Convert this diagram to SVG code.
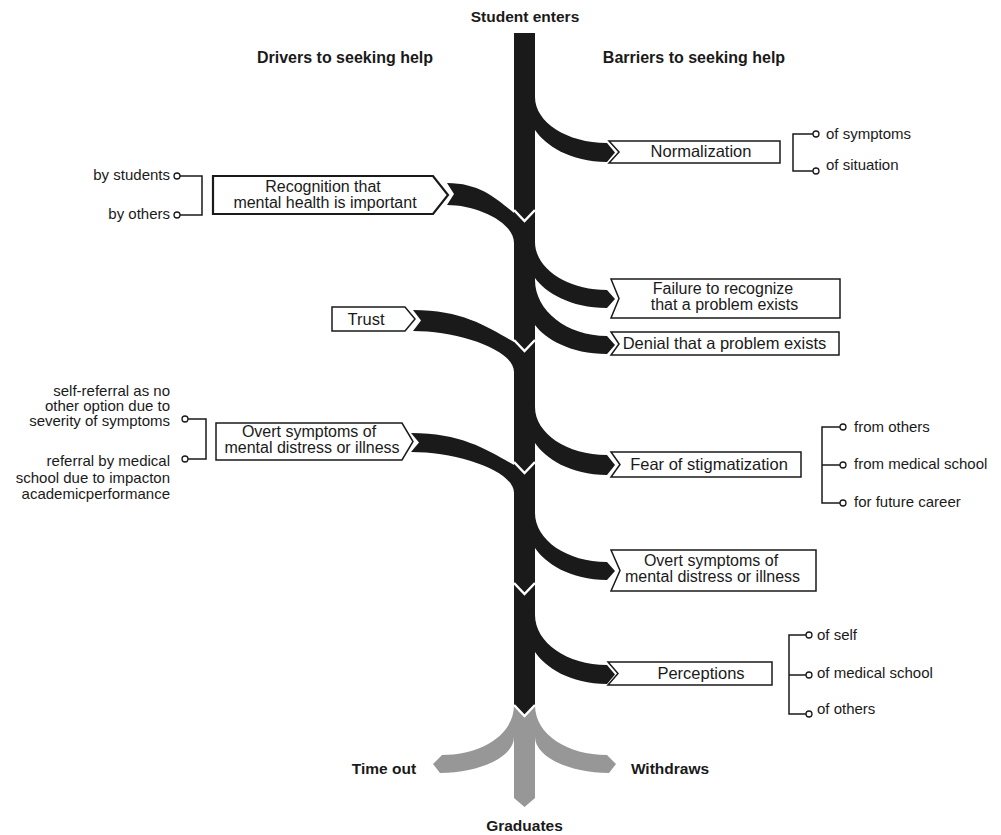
<svg xmlns="http://www.w3.org/2000/svg" width="1001" height="835" viewBox="0 0 1001 835">
<style>
.box{fill:#fff;stroke:#1a1a1a;stroke-width:1.5}
.boxb{fill:#fff;stroke:#1a1a1a;stroke-width:2.2}
.flow{fill:#1a1a1a}
.gray{fill:#979797}
.v{fill:none;stroke:#fff;stroke-width:2.5}
.br{fill:none;stroke:#1a1a1a;stroke-width:1.5}
.dot{fill:#fff;stroke:#1a1a1a;stroke-width:1.3}
text{font-family:"Liberation Sans",Arial,sans-serif;fill:#1a1a1a}
.t{font-size:16.5px;text-anchor:middle}
.t2{font-size:16px;text-anchor:middle}
.s{font-size:15px}
.e{text-anchor:end}
.h{font-size:16px;font-weight:bold;text-anchor:middle}
.hs{font-size:15.5px;font-weight:bold;text-anchor:middle}
</style>
<rect width="1001" height="835" fill="#fff"/>
<g id="outcomes">
<path class="gray" d="M514 705 L535 705 C535 735 568 755 607 755 L616 764 L609 773 C570 773 535 757 535 737 L535 798 L524.5 807 L514 798 L514 737 C514 757 479 773 440 773 L433 764 L442 755 C481 755 514 735 514 705 Z"/>
</g>
<g id="connectors">
<path class="flow" d="M447 183 C480.5 183 497.3 199.5 514 213 L526 213 L526 243 L514 243 C514 222.1 477.2 205 447 205 L454 194 Z"/>
<path class="flow" d="M413 310 C463.5 310 488.5 327.6 514 342 L526 342 L526 372 L514 372 C514 349.5 458 331 413 331 L421 320.5 Z"/>
<path class="flow" d="M411 433 C462.5 433 488.3 450.6 514 465 L526 465 L526 493 L514 493 C514 470.5 457.4 452 411 452 L419 442.5 Z"/>
<path class="flow" d="M514 33 L535 33 L535 705 L524.5 716 L514 705 Z"/>
<path class="flow" d="M524 97 L535 97 C535 122.3 567 143 607 143 L615 152.5 L607 162 C570 162 545 145 535 130 L524 130 Z"/>
<path class="flow" d="M524 242 L535 242 C535 268.4 567 290 607 290 L615 299 L607 308 C570 308 545 292.1 535 278 L524 278 Z"/>
<path class="flow" d="M524 280 L535 280 C535 310.8 567 336 607 336 L615 345 L607 354 C570 354 545 338.6 535 325 L524 325 Z"/>
<path class="flow" d="M524 407 L535 407 C535 433.4 567 455 607 455 L615 465 L607 475 C570 475 545 458 535 443 L524 443 Z"/>
<path class="flow" d="M524 513 L535 513 C535 540 567 562 607 562 L615 571 L607 580 C570 580 545 563 535 548 L524 548 Z"/>
<path class="flow" d="M524 615 L535 615 C535 642.5 567 665 607 665 L615 674.5 L607 684 C570 684 545 667 535 652 L524 652 Z"/>
<polyline class="v" points="514,210 524.5,221 535,210"/>
<polyline class="v" points="514,340 524.5,351 535,340"/>
<polyline class="v" points="514,462 524.5,473 535,462"/>
<polyline class="v" points="514,583 524.5,594 535,583"/>
<polyline class="v" points="514,705 524.5,716 535,705"/>
<path class="br" d="M180 176 L202 176 L202 215 L180 215"/>
<circle class="dot" cx="177" cy="176" r="3"/><circle class="dot" cx="177" cy="215" r="3"/>
<path class="br" d="M188 419 L206 419 L206 459 L188 459"/>
<circle class="dot" cx="185" cy="419" r="3"/><circle class="dot" cx="185" cy="459" r="3"/>
<path class="br" d="M813 134 L793 134 L793 171 L813 171"/>
<circle class="dot" cx="816" cy="134" r="3"/><circle class="dot" cx="816" cy="171" r="3"/>
<path class="br" d="M840 427 L822 427 L822 503 L840 503 M822 465 L840 465"/>
<circle class="dot" cx="843" cy="427" r="3"/><circle class="dot" cx="843" cy="465" r="3"/><circle class="dot" cx="843" cy="503" r="3"/>
<path class="br" d="M806 635 L789 635 L789 714 L806 714 M789 675 L806 675"/>
<circle class="dot" cx="809" cy="635" r="3"/><circle class="dot" cx="809" cy="675" r="3"/><circle class="dot" cx="809" cy="714" r="3"/>
</g>
<g id="titles">
<text class="hs" x="525" y="22">Student enters</text>
<text class="h" x="345" y="63">Drivers to seeking help</text>
<text class="h" x="694" y="63">Barriers to seeking help</text>
<text class="hs" x="384" y="774">Time out</text>
<text class="hs" x="670" y="774">Withdraws</text>
<text class="hs" x="524.5" y="831">Graduates</text>
</g>
<g id="recognition">
<polygon class="boxb" points="213,176 433,176 448,195 433,214 213,214"/>
<text class="t2" x="323" y="192">Recognition that</text>
<text class="t2" x="325" y="208">mental health is important</text>
<text class="s e" x="170" y="180">by students</text>
<text class="s e" x="170" y="219">by others</text>
</g>
<g id="trust">
<polygon class="box" points="332,307 405,307 415,319 405,331 332,331"/>
<text class="t" x="366" y="325">Trust</text>
</g>
<g id="overt-driver">
<polygon class="box" points="216,423 402,423 413,441.5 402,460 216,460"/>
<text class="t2" x="309" y="437">Overt symptoms of</text>
<text class="t2" x="312" y="453">mental distress or illness</text>
<text class="s e" x="170" y="396">self-referral as no</text>
<text class="s e" x="170" y="411">other option due to</text>
<text class="s e" x="170" y="426">severity of symptoms</text>
<text class="s e" x="170" y="466">referral by medical</text>
<text class="s e" x="170" y="483">school due to impacton</text>
<text class="s e" x="170" y="499">academicperformance</text>
</g>
<g id="normalization">
<polygon class="box" points="609,141 780,141 780,163 609,163 619,152"/>
<text class="t" x="701" y="157">Normalization</text>
<text class="s" x="826" y="139">of symptoms</text>
<text class="s" x="826" y="170">of situation</text>
</g>
<g id="failure">
<polygon class="box" points="611,279 840,279 840,318 611,318 619,298.5"/>
<text class="t2" x="723" y="294">Failure to recognize</text>
<text class="t2" x="724.5" y="310">that a problem exists</text>
</g>
<g id="denial">
<polygon class="box" points="611,332 839,332 839,355 611,355 619,344"/>
<text class="t" x="724.5" y="349">Denial that a problem exists</text>
</g>
<g id="fear">
<polygon class="box" points="611,452 801,452 801,477 611,477 620,464.5"/>
<text class="t" x="709" y="470">Fear of stigmatization</text>
<text class="s" x="854" y="432">from others</text>
<text class="s" x="854" y="469">from medical school</text>
<text class="s" x="854" y="507">for future career</text>
</g>
<g id="overt-barrier">
<polygon class="box" points="611,550 816,550 816,591 611,591 620,570.5"/>
<text class="t2" x="711" y="566">Overt symptoms of</text>
<text class="t2" x="712.5" y="582">mental distress or illness</text>
</g>
<g id="perceptions">
<polygon class="box" points="608,662 772,662 772,685 608,685 618,673.5"/>
<text class="t" x="701" y="679">Perceptions</text>
<text class="s" x="817" y="640">of self</text>
<text class="s" x="817" y="678">of medical school</text>
<text class="s" x="817" y="714">of others</text>
</g>
</svg>
